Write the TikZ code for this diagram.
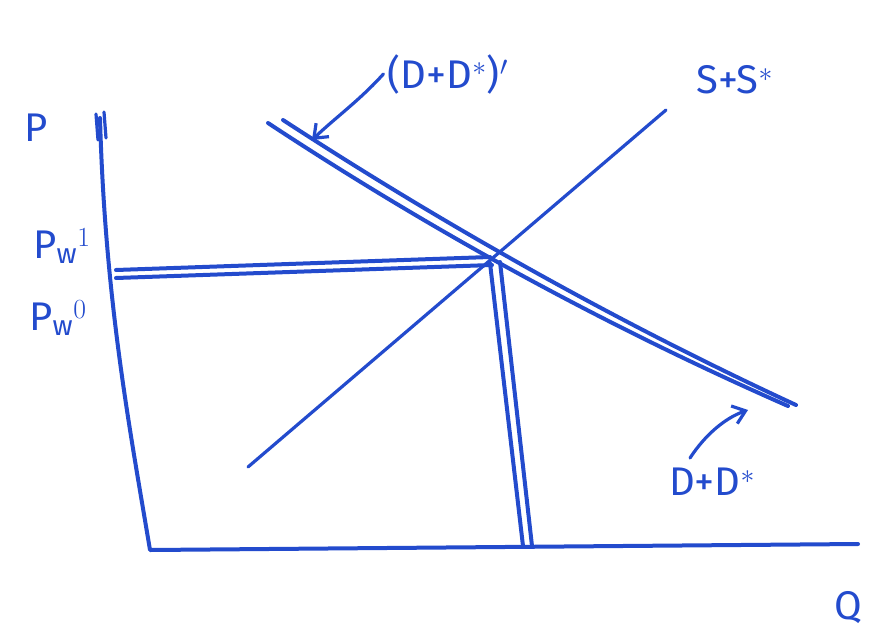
\documentclass[tikz,border=0pt]{standalone}
\usepackage{fontspec}
\setmainfont{Fira Sans}
\usetikzlibrary{arrows.meta}

\definecolor{marker}{RGB}{35,75,205}
\tikzset{every picture/.style={line width=0.75pt}}
\tikzset{
  pen/.style={draw=marker, line width=3pt, line cap=round, line join=round},
  thinpen/.style={draw=marker, line width=2.4pt, line cap=round, line join=round},
  lbl/.style={text=marker, inner sep=0pt, font=\fontsize{30}{30}\selectfont},
  tip/.style={-{Straight Barb[length=9pt, width=14pt, line width=2.4pt]}}
}

\begin{document}
\begin{tikzpicture}[x=0.75pt,y=0.75pt,yscale=-1,xscale=1]
\useasboundingbox (0,0) rectangle (884,639);

%Points
\coordinate (ytop) at (100,118);
\coordinate (orig) at (150,550);
\coordinate (xend) at (858,544);
\coordinate (sa) at (248,467);
\coordinate (sb) at (666,110);
\coordinate (da) at (268,123);
\coordinate (db) at (788,406);
\coordinate (dpa) at (283,120);
\coordinate (dpb) at (796,405);
\coordinate (hl) at (116,270);
\coordinate (hr) at (490,257);
\coordinate (hl2) at (116,278);
\coordinate (hr2) at (492,265);
\coordinate (vt) at (490,263);
\coordinate (vb) at (523,546);
\coordinate (vt2) at (500,262);
\coordinate (vb2) at (532,546);

%Axes
\draw [pen] (ytop) .. controls (105,300) and (130,430) .. (orig) -- (xend);
\draw [thinpen] (96,114) -- (98,140);
\draw [thinpen] (104,112) -- (106,138);

%Straight Lines: S+S*
\draw [thinpen] (sa) -- (sb);
%Straight Lines: D+D* and (D+D*)'
\draw [pen] (da) .. controls (441,237) and (615,330) .. (db);
\draw [pen] (dpa) .. controls (452,230) and (625,326) .. (dpb);
%Straight Lines: price
\draw [pen] (hl) -- (hr);
\draw [pen] (hl2) -- (hr2);
%Straight Lines: quantity
\draw [pen] (vt) -- (vb);
\draw [pen] (vt2) -- (vb2);

% Text Node
\node [lbl] (plab) at (36,128) {P};
% Text Node
\node [lbl] (pw1) at (62,246) {P$_{\mathrm{w}}$$^{1}$};
% Text Node
\node [lbl] (pw0) at (58,318) {P$_{\mathrm{w}}$$^{0}$};
% Text Node
\node [lbl] (dplab) at (448,74) {(D+D$^{*}$)$'$};
% Text Node
\node [lbl] (slab) at (735,80) {S+S$^{*}$};
% Text Node
\node [lbl] (dlab) at (712,482) {D+D$^{*}$};
% Text Node
\node [lbl] (qlab) at (848,608) {Q};

%Arrows
\coordinate (dptip) at (312,140);
\coordinate (dtip) at (748,410);
\draw [thinpen, tip] ([xshift=-3pt]dplab.west) .. controls (360,100) and (335,118) .. (dptip);
\draw [thinpen, tip] (690,458) .. controls (705,435) and (725,418) .. (dtip);

\end{tikzpicture}
\end{document}
